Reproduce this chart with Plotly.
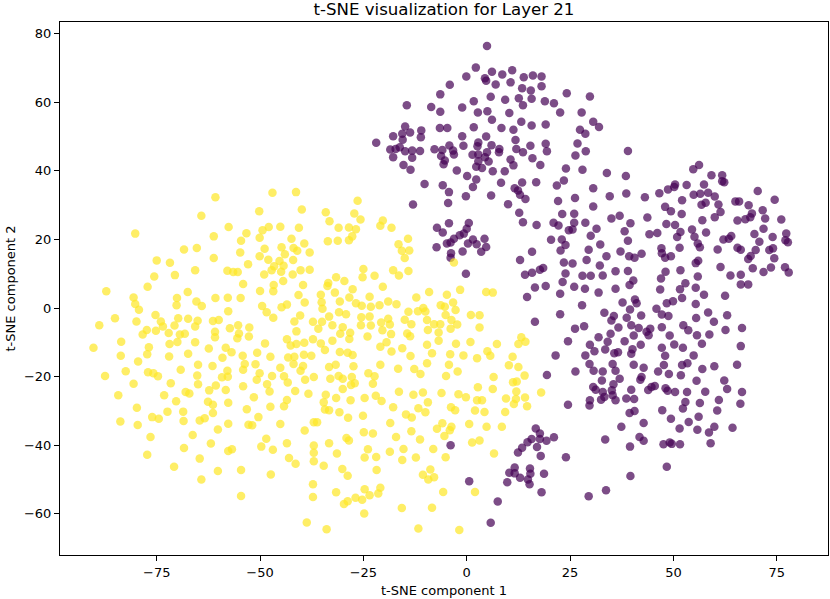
import plotly.graph_objects as go

# t-SNE coordinates, one list per cluster
yellow_pts = [
    (-60.8, 32.3), (-47.0, 33.6), (-41.3, 33.8), (-64.2, 26.9), (-50.2, 28.2), (-39.9, 28.7),
    (-80.2, 21.7), (-57.6, 23.6), (-61.2, 20.9), (-53.3, 21.8), (-49.4, 22.7), (-47.9, 23.6),
    (-45.1, 23.7), (-40.6, 23.4), (-50.1, 20.5), (-54.6, 19.6), (-42.4, 20.2), (-39.3, 18.8),
    (-68.4, 17.1), (-65.3, 17.5), (-54.8, 16.2), (-48.9, 17.3), (-44.8, 17.7), (-41.9, 17.5),
    (-41.0, 16.7), (-38.0, 16.2), (-61.2, 14.6), (-75.0, 13.9), (-71.8, 13.2), (-50.1, 15.1),
    (-48.0, 14.1), (-44.0, 15.7), (-45.3, 13.7), (-42.0, 14.0), (-52.9, 12.8), (-46.6, 12.2),
    (-44.3, 12.3), (-65.7, 11.0), (-57.9, 10.9), (-56.5, 10.5), (-55.4, 10.5), (-47.2, 11.0),
    (-44.9, 10.6), (-40.2, 11.0), (-38.0, 11.2), (-75.6, 9.2), (-70.6, 9.6), (-49.0, 9.8),
    (-42.1, 9.8), (-54.1, 7.0), (-46.7, 6.7), (-44.4, 7.9), (-39.6, 6.7), (-77.2, 6.2),
    (-87.2, 4.9), (-67.5, 4.7), (-50.0, 5.0), (-46.8, 4.9), (-80.6, 3.1), (-70.1, 2.9),
    (-60.8, 2.9), (-57.8, 3.0), (-54.7, 2.9), (-40.7, 3.8), (-80.2, 1.2), (-70.2, 0.8),
    (-65.4, 1.9), (-64.1, 0.6), (-79.3, -0.5), (-49.5, 0.6), (-44.8, 0.2), (-43.5, 1.0),
    (-39.2, 1.6), (-57.7, -0.9), (-48.4, -1.2), (-75.3, -2.0), (-85.1, -3.0), (-79.9, -3.9),
    (-74.0, -3.9), (-69.8, -3.0), (-67.4, -3.1), (-65.1, -3.7), (-61.4, -3.8), (-60.0, -3.5),
    (-46.8, -2.8), (-40.3, -2.2), (-41.7, -3.9), (-88.9, -5.0), (-73.5, -5.4), (-70.7, -5.1),
    (-65.7, -5.4), (-57.3, -5.9), (-55.3, -5.0), (-52.6, -5.7), (-77.4, -6.4), (-78.4, -7.7),
    (-75.2, -6.6), (-72.1, -7.3), (-69.4, -7.7), (-68.2, -7.5), (-60.9, -6.9), (-55.1, -7.4),
    (-41.2, -6.8), (-37.2, -4.0), (-60.9, -8.5), (-55.5, -8.8), (-52.7, -8.3), (-83.6, -9.8),
    (-70.0, -9.9), (-71.9, -10.5), (-65.7, -10.0), (-43.5, -9.1), (-42.6, -10.9), (-41.2, -10.5),
    (-39.3, -10.1), (-37.2, -9.1), (-48.8, -10.3), (-90.3, -11.6), (-76.9, -11.4), (-62.4, -11.8),
    (-58.3, -11.6), (-56.9, -12.9), (-50.7, -13.0), (-83.7, -13.9), (-77.3, -13.5), (-72.0, -14.1),
    (-67.4, -13.3), (-54.2, -13.9), (-47.5, -14.2), (-43.2, -14.4), (-41.7, -14.2), (-39.4, -13.6),
    (-37.6, -13.9), (-59.1, -14.5),
    (-79.5, -15.6), (-87.5, -19.8), (-82.5, -18.4), (-77.1, -18.7), (-75.8, -19.0), (-74.7, -19.9),
    (-69.2, -18.0), (-65.0, -16.5), (-61.5, -16.9), (-65.2, -19.7), (-65.0, -22.2), (-57.9, -18.3),
    (-57.8, -20.0), (-59.2, -20.2), (-54.1, -18.0), (-53.7, -16.3), (-51.1, -16.4), (-50.1, -19.0),
    (-50.8, -20.9), (-47.1, -19.8), (-45.1, -17.4), (-44.2, -19.9), (-43.3, -21.7), (-41.9, -16.3),
    (-40.2, -18.3), (-39.6, -16.9), (-39.1, -20.9), (-37.0, -20.1), (-80.6, -22.1), (-71.6, -21.9),
    (-60.7, -22.6), (-54.1, -22.8), (-48.3, -22.2), (-84.3, -25.4), (-73.2, -25.4), (-68.0, -24.5),
    (-67.1, -24.9), (-62.3, -24.0), (-58.3, -23.9), (-47.7, -24.3), (-41.5, -24.2), (-38.3, -25.0),
    (-70.3, -27.2), (-62.6, -27.3), (-61.4, -28.2), (-57.7, -27.6), (-51.5, -26.0), (-43.5, -26.8),
    (-79.8, -29.1), (-72.4, -30.2), (-68.6, -30.2), (-61.4, -30.6), (-53.2, -29.5), (-47.5, -28.8),
    (-44.2, -28.6), (-83.8, -33.1), (-79.6, -34.1), (-76.1, -31.8), (-74.5, -32.3), (-68.5, -32.9),
    (-64.6, -32.8), (-63.4, -32.1), (-57.7, -33.7), (-52.8, -34.0), (-51.9, -34.2), (-50.4, -31.8),
    (-45.1, -33.8), (-39.2, -35.7), (-37.0, -33.3), (-76.5, -37.6), (-66.3, -37.0), (-60.2, -35.4),
    (-48.5, -38.1), (-61.9, -39.5), (-49.7, -40.4), (-46.9, -41.3), (-43.5, -39.4), (-37.0, -40.1),
    (-77.3, -42.8), (-68.4, -40.8), (-57.7, -41.7), (-56.8, -41.2), (-64.6, -43.9), (-43.0, -43.7),
    (-41.4, -45.4), (-37.0, -42.2), (-37.0, -44.7), (-70.8, -46.3), (-60.2, -47.5), (-54.6, -47.2),
    (-47.4, -48.5), (-64.2, -50.0), (-37.2, -51.4), (-54.6, -54.8), (-37.2, -55.1), (-38.7, -62.5),
    (-26.4, 31.3), (-34.1, 27.9), (-27.2, 27.6), (-33.2, 25.3), (-25.7, 25.8), (-31.0, 23.4),
    (-28.5, 23.5), (-26.8, 23.0), (-20.3, 25.5), (-20.9, 24.0), (-18.2, 23.4), (-27.7, 20.9),
    (-28.5, 19.8), (-33.6, 19.5), (-31.2, 19.6), (-14.2, 20.2), (-16.5, 18.6), (-15.7, 16.7),
    (-13.9, 16.8), (-15.0, 14.6), (-3.1, 13.3), (-25.0, 11.4), (-25.2, 9.0), (-22.3, 9.4),
    (-17.8, 11.0), (-16.4, 9.5), (-14.1, 10.8), (-31.6, 9.0), (-29.6, 7.9), (-33.5, 7.3),
    (-33.7, 6.4), (-20.3, 6.2), (-27.6, 5.5), (-31.9, 4.5), (-35.3, 3.9), (-9.1, 4.7),
    (-1.6, 5.3), (4.7, 4.7), (6.3, 4.5), (-4.8, 3.9), (-28.4, 3.1), (-23.5, 3.3),
    (-12.2, 3.1), (-35.1, 1.7), (-30.7, 1.9), (-26.8, 1.4), (-25.4, 0.7), (-23.2, 0.4),
    (-21.1, 0.8), (-19.0, 1.9), (-17.0, 1.1), (-6.3, 0.8), (-3.3, 1.6), (-10.5, 0.0),
    (-5.3, 0.4), (-34.9, -0.2), (-30.9, -1.2), (-29.2, -1.8), (-14.1, -1.1), (-11.8, -0.9),
    (-10.0, -1.0), (-2.7, -0.6), (-33.3, -2.5), (-25.5, -2.7), (-23.5, -2.5), (-19.0, -3.1),
    (-15.0, -3.4), (-9.6, -3.5), (-5.1, -2.0), (-3.7, -3.5), (1.0, -2.0), (3.1, -2.1),
    (-35.0, -4.0), (-32.5, -5.0), (-30.0, -5.6), (-25.6, -5.0), (-23.2, -5.1), (-20.7, -4.2),
    (-18.6, -4.8), (-13.4, -4.7), (-7.9, -4.7), (-6.4, -4.7), (-2.3, -4.8), (3.1, -5.7),
    (-35.9, -6.0), (-30.6, -7.5), (-28.2, -7.2), (-20.4, -6.5), (-18.3, -7.6), (-9.4, -6.4),
    (-6.8, -7.1), (-3.9, -6.0), (-14.4, -7.4), (-13.7, -8.2), (-24.0, -8.3), (-28.4, -9.0),
    (-6.8, -9.5), (13.2, -8.5), (14.2, -9.8), (12.5, -10.5), (-35.3, -10.3), (-32.5, -9.5),
    (-19.4, -10.0), (-9.6, -10.7), (-2.6, -10.4), (0.9, -9.9), (7.3, -10.5), (-20.9, -11.3),
    (-15.6, -11.7), (-34.3, -12.2), (-30.7, -12.8), (-28.8, -13.0), (-27.6, -13.7), (-18.2, -12.7),
    (-13.6, -14.0), (-8.4, -13.2), (-4.0, -13.5), (-0.8, -13.8), (2.5, -14.6), (5.0, -12.6),
    (5.7, -13.9), (11.1, -14.2),
    (-31.7, -16.5), (-27.4, -17.0), (-20.9, -16.5), (-16.6, -17.7), (-12.7, -17.8), (-9.6, -16.1),
    (-4.3, -16.5), (10.2, -16.7), (12.5, -17.2), (-33.3, -17.2), (-33.0, -20.6),
    (-31.0, -19.8), (-30.0, -20.6), (-27.8, -20.1), (-28.0, -22.4), (-27.1, -21.9), (-23.8, -19.0),
    (-22.3, -19.9), (-22.7, -22.1), (-11.2, -19.2), (-5.0, -19.8), (-2.2, -18.5), (6.5, -20.1),
    (14.0, -19.7), (11.2, -21.6), (12.1, -21.4), (-30.0, -23.6), (-34.1, -25.3), (-31.6, -26.2),
    (-28.1, -26.9), (-24.7, -26.2), (-22.0, -25.6), (-20.6, -27.1), (-16.4, -24.4), (-12.9, -25.3),
    (-10.6, -24.6), (-6.1, -24.8), (-2.0, -25.1), (-0.2, -26.0), (2.7, -23.1), (6.3, -23.6),
    (2.5, -26.9), (3.7, -26.9), (9.5, -26.4), (12.0, -24.3), (11.9, -26.5), (14.1, -26.1),
    (18.0, -24.6), (-34.6, -27.5), (-34.3, -29.6), (-33.3, -29.8), (-30.8, -30.4), (-28.7, -32.0),
    (-25.1, -31.4), (-17.8, -28.9), (-14.7, -31.0), (-13.3, -31.9), (-11.7, -29.2), (-10.0, -30.4),
    (-9.4, -27.5), (-3.8, -28.9), (-2.8, -29.8), (2.0, -29.9), (4.3, -30.3), (9.3, -30.3),
    (11.4, -28.0), (14.6, -28.6), (-36.2, -33.3), (-18.5, -33.5), (-5.9, -33.6), (-3.7, -34.6),
    (0.6, -33.8), (4.8, -34.6), (8.5, -34.6), (-7.2, -35.2), (-4.1, -35.6), (-5.4, -37.3),
    (-24.9, -36.2), (-22.7, -36.6), (-17.1, -37.6), (-13.4, -35.9), (-11.3, -38.3), (-29.1, -37.9),
    (-28.5, -38.6), (-33.3, -39.4), (1.3, -39.2), (3.1, -38.6), (-31.4, -42.4), (-23.9, -41.2),
    (-18.6, -41.9), (-15.3, -41.1), (-8.1, -41.1), (6.6, -42.4), (-24.7, -43.6), (-21.9, -43.4),
    (-15.6, -44.3), (-12.3, -43.6), (-5.1, -43.5), (-34.6, -46.0), (-30.1, -46.9), (-21.8, -47.2),
    (-8.8, -47.1), (-10.6, -48.6), (-9.3, -50.0), (-7.9, -49.3), (-28.8, -48.9), (-31.6, -53.7),
    (-24.7, -52.8), (-20.9, -52.4), (-23.5, -54.6), (-21.4, -54.1), (-29.7, -57.1), (-28.8, -56.3),
    (-26.9, -55.3), (-25.3, -55.9), (-5.7, -53.6), (2.0, -53.6), (-15.7, -58.3), (-8.4, -58.2),
    (-24.8, -59.9), (-33.9, -64.5), (-11.7, -64.3), (-1.8, -64.7),
]

purple_pts = [
    (4.9, 76.4), (2.2, 70.1), (-0.1, 67.5), (4.4, 67.0), (4.7, 66.3), (6.1, 68.9),
    (8.6, 68.1), (11.0, 69.3), (10.6, 65.8), (7.0, 65.2), (13.8, 67.3), (16.0, 67.8),
    (18.1, 67.5), (18.1, 64.7), (13.4, 64.1), (15.5, 63.4), (-4.1, 65.1), (-6.4, 62.3),
    (5.8, 61.6), (9.3, 60.7), (12.6, 61.2), (15.7, 61.0), (13.6, 59.1), (18.9, 60.3),
    (21.1, 59.7), (24.2, 62.6), (22.6, 57.0), (1.7, 60.3), (-1.1, 58.5), (-8.6, 58.6),
    (-6.4, 57.2), (-14.5, 59.1), (2.7, 57.0), (5.0, 57.4), (6.1, 54.9), (10.3, 56.9),
    (13.2, 54.3), (15.7, 53.2), (19.1, 53.5), (1.7, 52.7), (8.4, 52.5), (11.3, 52.0),
    (-6.5, 52.5), (-4.7, 52.5), (-14.9, 52.9), (-13.7, 51.2), (-11.0, 51.8), (-11.1, 49.8),
    (-17.8, 50.1), (-15.6, 50.8), (-15.5, 49.1), (-21.9, 48.2), (-1.1, 50.1), (4.7, 50.0),
    (2.8, 48.3), (11.8, 49.0), (19.1, 47.9), (15.4, 47.3), (-18.5, 46.2), (-17.2, 46.4),
    (-16.2, 46.9), (-14.9, 45.7), (-13.2, 45.9), (-11.3, 45.8), (-17.8, 44.0), (-13.2, 43.8),
    (-7.8, 46.3), (-5.9, 46.1), (-4.2, 47.4), (-3.3, 45.9), (-0.8, 47.3), (2.6, 47.2),
    (6.0, 47.5), (7.9, 46.4), (7.8, 45.4), (12.0, 46.4), (13.6, 45.4), (19.4, 45.7),
    (1.4, 44.7), (4.9, 45.4), (-6.2, 44.3), (-3.1, 44.8), (2.8, 44.8), (4.4, 44.0),
    (-5.3, 43.0), (-5.6, 41.9), (2.8, 42.8), (5.3, 42.7), (10.6, 43.3), (15.9, 43.7),
    (-15.3, 41.7), (-13.6, 40.3), (-2.4, 40.1), (2.3, 41.2), (3.7, 40.8), (11.3, 41.6),
    (17.8, 41.7), (6.3, 39.9), (9.2, 39.9), (24.0, 40.7), (0.1, 38.5), (2.3, 37.5),
    (23.5, 37.2),
    (29.8, 61.7), (27.8, 57.0), (30.6, 54.3), (32.0, 52.8), (27.4, 52.0), (28.7, 50.8),
    (26.8, 48.0), (28.8, 45.7), (26.3, 44.5), (39.0, 45.8), (28.0, 40.3), (33.9, 39.4),
    (38.5, 38.5), (56.2, 41.7), (54.8, 40.5), (59.2, 38.7), (61.8, 38.7),
    (-10.2, 36.2), (-5.8, 35.8), (-4.3, 33.8), (-4.5, 30.6), (-13.0, 30.2), (-0.2, 32.6),
    (1.5, 35.3), (5.9, 32.8), (8.3, 36.5), (10.0, 30.3), (11.6, 34.9), (12.4, 34.3),
    (13.4, 36.6), (12.9, 33.0), (14.2, 31.8), (16.8, 36.7), (21.8, 35.7), (22.1, 31.2),
    (12.7, 27.8), (13.6, 25.0), (16.9, 24.2), (23.1, 27.4), (21.0, 24.9), (22.2, 24.1),
    (24.7, 22.7), (-7.2, 23.4), (-5.8, 22.0), (-4.3, 24.7), (0.5, 24.8), (0.0, 23.1),
    (-1.7, 21.2), (-0.7, 21.7), (-3.1, 20.2), (1.5, 20.0), (-4.8, 18.8), (-7.3, 17.7),
    (-3.9, 19.1), (0.3, 18.8), (2.4, 18.6), (4.3, 20.2), (4.7, 17.8), (3.5, 16.4),
    (-1.0, 16.5), (-3.8, 16.0), (-3.9, 14.7), (-0.2, 10.0), (20.4, 19.9), (23.0, 20.0),
    (23.9, 18.4), (22.7, 16.8), (15.8, 16.4), (12.9, 14.0), (23.5, 13.3), (18.5, 11.7),
    (17.7, 11.2), (15.8, 10.3), (14.1, 9.7), (23.9, 10.1), (23.2, 7.6), (19.1, 6.4),
    (16.5, 6.0), (14.6, 3.2), (22.6, 4.2), (22.6, -1.8), (16.5, -4.0), (24.5, -9.7),
    (21.5, -13.8),
    (19.4, -19.5), (24.5, -28.2), (16.7, -35.1), (17.7, -36.6), (15.7, -38.2), (14.7, -39.1),
    (17.7, -38.2), (19.3, -38.7), (21.1, -37.7), (13.4, -40.7), (12.4, -42.1), (17.0, -40.5),
    (17.9, -43.1), (24.0, -43.5), (-3.9, -40.0), (11.6, -46.5), (10.3, -48.0), (15.3, -46.8),
    (15.4, -48.3), (11.6, -48.2), (12.9, -49.5), (14.8, -50.0), (18.7, -48.3), (9.8, -50.8),
    (15.2, -51.4), (18.1, -53.7), (0.6, -50.5), (7.5, -56.4), (5.8, -62.6),
    (30.6, 34.9), (26.2, 32.1), (34.6, 32.6), (38.6, 33.4), (43.1, 32.3), (46.6, 33.5),
    (48.7, 34.6), (50.4, 36.0), (50.2, 35.3), (53.2, 35.9), (57.4, 36.0), (61.8, 37.0),
    (62.3, 36.7), (52.1, 31.4), (54.9, 33.0), (56.5, 33.3), (58.4, 33.6), (60.0, 32.5),
    (56.8, 30.1), (57.8, 30.7), (60.9, 30.2), (61.4, 28.0), (60.0, 26.5), (57.0, 25.6),
    (70.4, 34.1), (74.5, 31.6), (65.0, 31.1), (65.9, 31.1), (68.2, 30.0), (71.6, 28.5),
    (69.0, 27.6), (68.6, 26.5), (67.4, 25.9), (72.2, 26.1), (76.1, 25.8), (65.5, 25.5),
    (26.0, 27.5), (30.6, 29.6), (35.0, 26.1), (37.0, 26.9), (39.6, 24.7), (43.7, 26.4),
    (48.0, 29.5), (49.4, 28.2), (52.0, 27.4), (48.3, 24.5), (50.4, 24.2), (26.0, 24.9),
    (28.7, 24.9), (25.6, 22.9), (31.4, 23.1), (30.0, 21.1), (38.2, 22.4), (44.2, 21.5),
    (46.1, 21.9), (51.7, 22.2), (50.9, 20.7), (54.5, 22.9), (55.1, 20.8), (57.9, 22.0),
    (69.6, 21.6), (71.8, 23.1), (74.0, 20.7), (77.3, 21.7), (77.1, 19.8), (77.7, 19.2),
    (62.1, 20.0), (63.4, 20.2), (64.0, 21.0), (70.8, 19.3), (39.0, 19.6), (32.3, 18.5),
    (29.5, 17.0), (37.2, 16.5), (33.8, 15.1), (39.3, 15.1), (40.6, 14.7), (42.3, 15.8),
    (47.1, 17.4), (47.2, 16.0), (48.0, 14.7), (49.4, 15.1), (51.5, 17.6), (55.9, 18.8),
    (56.4, 17.7), (60.7, 17.1), (65.5, 17.6), (66.3, 17.0), (69.9, 16.9), (73.2, 16.9),
    (74.1, 17.4), (68.7, 15.2), (68.1, 14.3), (74.4, 14.5), (25.6, 13.0), (29.0, 14.0),
    (32.2, 12.4), (55.4, 13.1), (56.0, 13.8), (61.4, 12.0), (69.2, 11.6), (73.6, 11.8),
    (71.8, 10.5), (77.0, 11.9), (77.9, 10.4), (28.0, 9.4), (30.0, 9.4), (32.9, 9.5),
    (36.0, 10.7), (39.0, 10.8), (48.1, 10.6), (47.0, 8.6), (51.7, 11.0), (55.9, 9.2),
    (63.8, 9.5), (66.3, 9.7), (66.3, 6.9), (68.1, 6.9), (40.3, 8.0), (39.4, 6.7),
    (26.0, 6.2), (28.6, 5.6), (36.0, 5.6), (31.9, 4.5), (46.8, 5.4), (51.6, 5.5),
    (52.9, 7.2), (55.4, 5.9), (57.4, 3.9), (62.5, 3.6), (52.1, 2.9), (37.7, 1.6),
    (40.7, 2.5), (41.1, 1.4), (27.9, 0.8), (48.4, 1.4), (49.9, 2.0), (55.4, 1.2),
    (39.5, -0.4), (45.9, -0.2), (33.3, -1.4), (35.6, -2.3), (38.7, -2.8), (42.2, -2.2),
    (47.2, -1.9), (48.8, -2.3), (58.4, -1.3), (55.5, -2.9), (63.0, -2.1), (35.0, -3.6),
    (26.2, -6.0), (28.4, -5.3), (36.7, -5.7), (39.8, -5.0), (41.6, -5.8), (43.5, -6.9),
    (44.4, -6.0), (44.0, -7.9), (47.2, -5.6), (52.4, -5.0), (53.6, -6.5), (59.8, -4.0),
    (62.6, -6.4), (66.6, -5.8), (34.8, -7.5), (40.4, -8.0), (49.1, -8.0), (55.7, -7.9),
    (58.7, -7.7), (31.9, -8.5), (34.1, -9.8), (38.2, -9.7), (29.8, -10.7), (30.9, -12.6),
    (33.5, -12.1), (42.1, -10.7), (47.2, -11.6), (50.2, -10.6), (52.3, -11.6), (56.9, -10.4),
    (66.3, -11.1), (28.7, -13.8), (35.7, -13.2), (36.6, -12.9), (39.8, -13.3), (40.1, -12.0),
    (48.0, -13.9), (54.9, -13.8),
    (26.3, -18.5), (29.7, -16.3), (30.7, -18.3), (32.9, -18.5), (35.3, -16.3), (36.0, -18.3),
    (40.4, -16.5), (42.8, -17.4), (42.3, -20.1), (42.0, -20.9), (46.3, -18.5), (47.7, -16.6),
    (48.9, -19.2), (51.8, -19.6), (52.1, -16.6), (53.4, -16.1), (57.0, -17.8), (59.9, -17.0),
    (65.4, -16.5), (32.7, -21.1), (37.0, -20.6), (35.5, -22.2), (30.6, -23.0), (31.2, -23.8),
    (32.9, -24.5), (35.1, -24.0), (35.3, -25.4), (33.3, -25.9), (32.5, -26.7), (29.8, -26.9),
    (29.7, -28.4), (36.0, -26.9), (38.6, -26.4), (40.5, -26.5), (39.8, -23.8), (43.9, -23.9),
    (44.7, -23.0), (45.5, -22.7), (48.1, -23.4), (48.6, -24.1), (50.4, -24.5), (53.3, -24.5),
    (55.6, -21.2), (57.7, -24.4), (62.3, -21.1), (63.0, -23.6), (66.6, -24.5), (52.9, -27.4),
    (56.4, -27.7), (61.0, -26.8), (66.2, -27.9), (39.4, -30.6), (40.6, -30.0), (47.3, -29.8),
    (52.3, -29.3), (60.6, -29.9), (49.4, -32.3), (56.1, -31.7), (42.8, -33.5), (37.4, -34.6),
    (51.5, -35.1), (53.7, -33.2), (55.8, -35.5), (58.6, -36.3), (59.9, -34.6), (64.3, -34.9),
    (33.5, -38.3), (41.8, -37.6), (42.8, -38.7), (39.5, -40.4), (47.6, -39.7), (49.1, -39.2),
    (49.6, -39.6), (51.6, -39.7), (59.0, -39.4), (48.4, -46.3), (39.6, -49.0), (33.7, -53.1),
    (29.5, -54.9),
]

x_ticks = [-75, -50, -25, 0, 25, 50, 75]
x_tick_text = ["\u221275", "\u221250", "\u221225", "0", "25", "50", "75"]
y_ticks = [-60, -40, -20, 0, 20, 40, 60, 80]
y_tick_text = ["\u221260", "\u221240", "\u221220", "0", "20", "40", "60", "80"]

PURPLE = "#440154"
YELLOW = "#fde725"
FONT = "DejaVu Sans"

fig = go.Figure()
for pts, color in ((purple_pts, PURPLE), (yellow_pts, YELLOW)):
    fig.add_trace(
        go.Scatter(
            x=[p[0] for p in pts],
            y=[p[1] for p in pts],
            mode="markers",
            marker=dict(size=8.5, color=color, opacity=0.7, line=dict(width=0)),
            hoverinfo="skip",
            showlegend=False,
        )
    )

axis_style = dict(
    showgrid=False,
    zeroline=False,
    showline=True,
    mirror=True,
    linecolor="black",
    linewidth=1,
    ticks="outside",
    ticklen=5,
    tickwidth=1,
    tickcolor="black",
    tickfont=dict(family=FONT, size=13, color="black"),
)

fig.update_layout(
    width=830,
    height=599,
    margin=dict(l=60, r=2, t=22, b=44),
    paper_bgcolor="white",
    plot_bgcolor="white",
    title=dict(
        text="t-SNE visualization for Layer 21",
        font=dict(family=FONT, size=16.6, color="black"),
        x=0.5,
        xref="paper",
        y=1 - 9 / 599,
        yref="container",
        xanchor="center",
        yanchor="middle",
    ),
    xaxis=dict(range=[-98.4, 87.4], tickvals=x_ticks, ticktext=x_tick_text, **axis_style),
    yaxis=dict(range=[-72.0, 83.4], tickvals=y_ticks, ticktext=y_tick_text, **axis_style),
    annotations=[
        dict(
            text="t-SNE component 1",
            xref="paper",
            yref="paper",
            x=0.5,
            y=-35 / 533,
            xanchor="center",
            yanchor="middle",
            showarrow=False,
            font=dict(family=FONT, size=13, color="black"),
        ),
        dict(
            text="t-SNE component 2",
            xref="paper",
            yref="paper",
            x=-50 / 768,
            y=0.5,
            xanchor="center",
            yanchor="middle",
            textangle=-90,
            showarrow=False,
            font=dict(family=FONT, size=13, color="black"),
        ),
    ],
)

# the page body has a default 8px margin; drop it so the figure fills the window
fig.write_html(
    "out.html",
    config={"displayModeBar": False},
    post_script="document.body.style.margin = '0';",
)
